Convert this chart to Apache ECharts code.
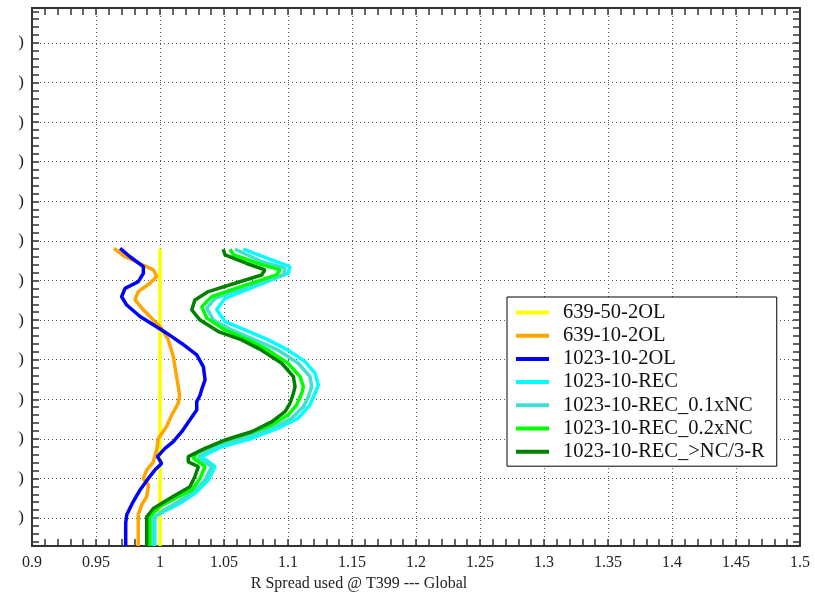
<!DOCTYPE html>
<html>
<head>
<meta charset="utf-8">
<script src="https://cdn.jsdelivr.net/npm/echarts@6/dist/echarts.min.js"></script>
<style>
  html, body { margin: 0; padding: 0; background: #fff; }
  #chart { width: 815px; height: 600px; }
</style>
</head>
<body>
<div id="chart"></div>
<script>
// x axis: spread ratio, y axis: level (labels are cut off in the original, only ")" shows)
var xMin = 0.9, xMax = 1.5, xStep = 0.05;
var yMin = 0.293, yMax = 13.884;
var yGridLevels = [1, 2, 3, 4, 5, 6, 7, 8, 9, 10, 11, 12, 13];

var seriesNames = ['639-50-2OL', '639-10-2OL', '1023-10-2OL', '1023-10-REC',
  '1023-10-REC_0.1xNC', '1023-10-REC_0.2xNC', '1023-10-REC_>NC/3-R'];
var seriesColors = ['#ffff00', '#ffa500', '#0000ff', '#00ffff', '#40e0d0', '#00ff00', '#008000'];

// [x, level] pairs, bottom to top
var s639_50_2OL = [[1.0, 0.29], [1.0, 7.81]];
var s639_10_2OL = [[0.983, 0.29], [0.983, 1.08], [0.9857, 1.33], [0.9896, 1.54], [0.991, 1.83], [0.987, 2.00],
  [0.9896, 2.21], [0.9948, 2.42], [0.9974, 2.72], [0.9987, 3.01], [1.0052, 3.31], [1.0091, 3.60],
  [1.0143, 3.90], [1.0153, 4.10], [1.0143, 4.32], [1.0125, 4.66], [1.0104, 5.08], [1.0065, 5.50],
  [1.0013, 5.79], [0.9948, 6.00], [0.987, 6.26], [0.9805, 6.51], [0.983, 6.72], [0.9922, 6.93],
  [0.9974, 7.10], [0.9948, 7.27], [0.9844, 7.43], [0.9727, 7.60], [0.964, 7.81]];
var s1023_10_2OL = [[0.9732, 0.29], [0.9732, 0.87], [0.974, 1.08], [0.979, 1.41], [0.9844, 1.71], [0.9909, 2.00],
  [0.996, 2.21], [1.0013, 2.38], [0.998, 2.55], [1.0039, 2.76], [1.0104, 2.93], [1.017, 3.18],
  [1.0234, 3.48], [1.0287, 3.73], [1.0287, 3.94], [1.0313, 4.10], [1.0326, 4.25], [1.0352, 4.49],
  [1.0339, 4.82], [1.0287, 5.12], [1.017, 5.41], [1.0052, 5.67], [0.9948, 5.88], [0.9844, 6.09],
  [0.974, 6.38], [0.970, 6.59], [0.9727, 6.80], [0.983, 6.97], [0.987, 7.18], [0.987, 7.35],
  [0.9766, 7.60], [0.9688, 7.81]];
var s1023_10_REC = [[0.996, 0.29], [0.996, 1.03], [1.005, 1.2], [1.0156, 1.37], [1.0273, 1.62], [1.0378, 1.96],
  [1.043, 2.30], [1.0326, 2.55], [1.0482, 2.80], [1.0716, 3.01], [1.0924, 3.27], [1.108, 3.52],
  [1.1172, 3.86], [1.1211, 4.15], [1.1237, 4.36], [1.1211, 4.66], [1.1133, 4.95], [1.1, 5.24],
  [1.0846, 5.50], [1.0664, 5.75], [1.0508, 5.96], [1.0443, 6.26], [1.0508, 6.55], [1.0742, 6.85],
  [1.1, 7.18], [1.1016, 7.35], [1.0846, 7.55], [1.0651, 7.79]];
var s1023_10_REC_01 = [[0.9945, 0.29], [0.9945, 1.0], [1.003, 1.2], [1.0143, 1.41], [1.026, 1.66], [1.0352, 1.96],
  [1.0404, 2.30], [1.03, 2.51], [1.0313, 2.59], [1.0456, 2.85], [1.069, 3.06], [1.0898, 3.31],
  [1.1029, 3.52], [1.112, 3.81], [1.1159, 4.06], [1.1185, 4.32], [1.1172, 4.57], [1.108, 4.91],
  [1.0924, 5.24], [1.0742, 5.50], [1.056, 5.75], [1.0417, 6.00], [1.0365, 6.30], [1.043, 6.55],
  [1.069, 6.85], [1.0963, 7.14], [1.0977, 7.31], [1.0794, 7.48], [1.0586, 7.79]];
var s1023_10_REC_02 = [[0.992, 0.29], [0.992, 1.03], [1.0, 1.29], [1.0143, 1.54], [1.0248, 1.71], [1.0313, 2.00],
  [1.0352, 2.30], [1.026, 2.51], [1.03, 2.68], [1.0482, 2.93], [1.069, 3.14], [1.0872, 3.35],
  [1.1, 3.60], [1.1068, 3.86], [1.1107, 4.15], [1.112, 4.32], [1.1094, 4.57], [1.1, 4.91],
  [1.0846, 5.24], [1.069, 5.50], [1.0508, 5.75], [1.0365, 6.05], [1.0326, 6.34], [1.0404, 6.59],
  [1.0638, 6.85], [1.0911, 7.14], [1.0938, 7.27], [1.0768, 7.43], [1.0573, 7.65], [1.0547, 7.79]];
var s1023_10_REC_NC3R = [[0.9896, 0.29], [0.9896, 1.03], [0.9948, 1.24], [1.0078, 1.50], [1.0234, 1.79], [1.0273, 2.05],
  [1.03, 2.30], [1.0221, 2.42], [1.0221, 2.55], [1.0352, 2.76], [1.0508, 2.97], [1.0716, 3.18],
  [1.0872, 3.43], [1.0977, 3.69], [1.1016, 3.90], [1.1042, 4.15], [1.1055, 4.32], [1.1042, 4.57],
  [1.0951, 4.91], [1.0794, 5.24], [1.0638, 5.50], [1.0456, 5.71], [1.0313, 6.00], [1.0248, 6.26],
  [1.0273, 6.51], [1.0378, 6.72], [1.0586, 6.93], [1.0794, 7.14], [1.082, 7.27], [1.0677, 7.43],
  [1.0508, 7.65], [1.0494, 7.79]];

var seriesData = [s639_50_2OL, s639_10_2OL, s1023_10_2OL, s1023_10_REC,
  s1023_10_REC_01, s1023_10_REC_02, s1023_10_REC_NC3R];

// minor ticks on y: 5 per grid interval
var yMinorTicks = [];
for (var k = -3; k <= 64; k++) {
  yMinorTicks.push(Math.round((1 + k * 0.2) * 1000) / 1000);
}

var serif = 'Liberation Serif';
var frameColor = '#333';
var gridLine = { color: '#555', type: [1, 3], width: 1 };

function xAxisCfg(pos, main) {
  return {
    type: 'value',
    position: pos,
    min: xMin,
    max: xMax,
    interval: xStep,
    axisLine: { show: true, onZero: false, lineStyle: { color: frameColor, width: 2 } },
    axisTick: { show: true, inside: true, length: 7, lineStyle: { color: frameColor, width: 1.5 } },
    minorTick: { show: true, splitNumber: 5, length: 7, lineStyle: { color: frameColor, width: 1.5 } },
    axisLabel: {
      show: main, margin: 9, color: '#222', fontFamily: serif, fontSize: 16
    },
    splitLine: { show: main, lineStyle: gridLine },
    name: main ? 'R Spread used @ T399 --- Global' : '',
    nameLocation: 'middle',
    nameGap: 29,
    nameTextStyle: { color: '#222', fontFamily: serif, fontSize: 16, padding: [0, 114, 0, 0] }
  };
}

function yAxisCfg(pos, kind) {
  return {
    type: 'value',
    position: pos,
    min: yMin,
    max: yMax,
    axisLine: { show: true, onZero: false, lineStyle: { color: frameColor, width: 2 } },
    axisTick: {
      show: kind !== 'grid', inside: true, length: 7,
      customValues: kind === 'grid' ? yGridLevels : yMinorTicks,
      lineStyle: { color: frameColor, width: 1.5 }
    },
    axisLabel: {
      show: kind === 'grid', margin: 8, color: '#222', fontFamily: serif, fontSize: 17,
      customValues: yGridLevels,
      formatter: function () { return ')'; }
    },
    splitLine: { show: kind === 'grid', lineStyle: gridLine }
  };
}

var chart = echarts.init(document.getElementById('chart'), null, { renderer: 'canvas' });

var option = {
  animation: false,
  backgroundColor: '#fff',
  grid: { left: 32, right: 15, top: 8, bottom: 54 },
  legend: {
    orient: 'vertical',
    left: 507,
    top: 297,
    padding: [5, 12, 4, 9],
    itemGap: 2.2,
    itemWidth: 33,
    itemHeight: 4,
    icon: 'rect',
    backgroundColor: '#fff',
    borderColor: '#000',
    borderWidth: 1,
    borderRadius: 0,
    textStyle: { fontFamily: serif, fontSize: 20.5, color: '#111', lineHeight: 20, padding: [0, 0, 0, 9] },
    data: seriesNames
  },
  xAxis: [xAxisCfg('bottom', true), xAxisCfg('top', false)],
  yAxis: [yAxisCfg('left', 'grid'), yAxisCfg('left', 'minor'), yAxisCfg('right', 'minor')],
  series: seriesNames.map(function (name, i) {
    return {
      name: name,
      type: 'line',
      xAxisIndex: 0,
      yAxisIndex: 0,
      data: seriesData[i],
      showSymbol: false,
      symbol: 'none',
      smooth: false,
      color: seriesColors[i],
      lineStyle: { width: 3.5, color: seriesColors[i] }
    };
  })
};

chart.setOption(option);
</script>
</body>
</html>
